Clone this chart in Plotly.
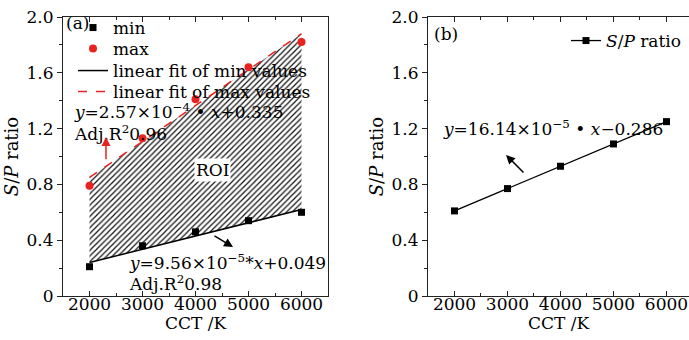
import plotly.graph_objects as go
from plotly.subplots import make_subplots

# ---- data ----
cct = [2000, 3000, 4000, 5000, 6000]
min_vals = [0.21, 0.36, 0.46, 0.54, 0.60]
max_vals = [0.79, 1.13, 1.41, 1.64, 1.82]
fit_x = [2000, 6000]
min_fit = [0.24, 0.62]
max_fit = [0.85, 1.88]
sp_ratio = [0.61, 0.77, 0.93, 1.09, 1.25]
x_ticks = [2000, 3000, 4000, 5000, 6000]
y_ticks = [0, 0.4, 0.8, 1.2, 1.6, 2.0]
y_ticklabels = ["0", "0.4", "0.8", "1.2", "1.6", "2.0"]

FONT = "DejaVu Serif"
FS = 17
AX = "#222222"
RED = "#e8231f"

fig = make_subplots(rows=1, cols=2)

# hatched ROI
fig.add_trace(go.Scatter(x=fit_x, y=min_fit, mode="lines", line=dict(width=0),
                         showlegend=False, hoverinfo="skip"), 1, 1)
fig.add_trace(go.Scatter(x=fit_x, y=max_fit, mode="lines", line=dict(width=0),
                         fill="tonexty", fillcolor="white",
                         fillpattern=dict(shape="/", size=4, solidity=0.3,
                                          fgcolor="#111111", bgcolor="white",
                                          fillmode="replace"),
                         showlegend=False, hoverinfo="skip"), 1, 1)
# fit lines
fig.add_trace(go.Scatter(x=fit_x, y=min_fit, mode="lines", name="linear fit of min values",
                         line=dict(color="black", width=1.5), legend="legend4"), 1, 1)
fig.add_trace(go.Scatter(x=fit_x, y=max_fit, mode="lines", name="linear fit of max values",
                         line=dict(color=RED, width=1.5, dash="dash"), legend="legend5"), 1, 1)
# points
fig.add_trace(go.Scatter(x=cct, y=min_vals, mode="markers", name="min",
                         marker=dict(symbol="square", size=7, color="black"),
                         legend="legend"), 1, 1)
fig.add_trace(go.Scatter(x=cct, y=max_vals, mode="markers", name="max",
                         marker=dict(symbol="circle", size=8, color=RED),
                         legend="legend3"), 1, 1)

# panel b
fig.add_trace(go.Scatter(x=cct, y=sp_ratio, mode="lines+markers",
                         name="<i>S</i>/<i>P</i> ratio",
                         line=dict(color="black", width=1.3),
                         marker=dict(symbol="square", size=7, color="black"),
                         legend="legend2"), 1, 2)

axis_common = dict(showgrid=False, zeroline=False, showline=True, linecolor=AX,
                   linewidth=1.2, tickcolor=AX,
                   tickfont=dict(family=FONT, size=FS, color="black"))


def leg(x_px, top_px):
    return dict(x=x_px / 689, y=1 - (top_px - 17) / 279, xanchor="left", yanchor="top",
                bgcolor="rgba(0,0,0,0)", font=dict(family=FONT, size=FS),
                itemwidth=30)


fig.update_layout(
    width=689, height=340,
    margin=dict(l=0, r=0, t=17, b=44),
    paper_bgcolor="white", plot_bgcolor="white",
    font=dict(family=FONT, size=FS, color="black"),
    xaxis=dict(domain=[63/689, 328/689], range=[1500, 6500], tickvals=x_ticks,
               ticks="inside", ticklen=5, mirror="ticks", ticklabelstandoff=-8,
               minor=dict(ticks="inside", ticklen=3, dtick=500, tickcolor=AX),
               title=dict(text="CCT /K", font=dict(family=FONT, size=FS), standoff=2),
               **axis_common),
    yaxis=dict(range=[0, 2.0], tickvals=y_ticks, ticktext=y_ticklabels,
               ticks="outside", ticklen=5, mirror=True,
               minor=dict(ticks="outside", ticklen=3, dtick=0.2, tickcolor=AX),
               title=dict(text="<i>S</i>/<i>P</i> ratio", font=dict(family=FONT, size=18), standoff=3),
               **axis_common),
    xaxis2=dict(domain=[428/689, 1.0], range=[1500, 6425], tickvals=x_ticks,
                ticks="inside", ticklen=5, mirror="ticks", ticklabelstandoff=-8,
                minor=dict(ticks="inside", ticklen=3, dtick=500, tickcolor=AX),
                title=dict(text="CCT /K", font=dict(family=FONT, size=FS), standoff=2),
                **axis_common),
    yaxis2=dict(range=[0, 2.0], tickvals=y_ticks, ticktext=y_ticklabels,
                ticks="outside", ticklen=5,
                minor=dict(ticks="outside", ticklen=3, dtick=0.2, tickcolor=AX),
                title=dict(text="<i>S</i>/<i>P</i> ratio", font=dict(family=FONT, size=18), standoff=3),
                **axis_common),
    legend=leg(73, 10),
    legend3=leg(73, 31),
    legend4=leg(73, 53),
    legend5=leg(73, 74),
    legend2=leg(566, 23),
)

ann_font = dict(family=FONT, size=FS, color="black")
annotations = [
    dict(x=1515, y=1.955, xref="x", yref="y", text="(a)", showarrow=False,
         xanchor="left", yanchor="middle", font=ann_font),
    dict(x=1670, y=1.325, xref="x", yref="y",
         text="<i>y</i>=2.57×10<sup>−4</sup> • <i>x</i>+0.335", showarrow=False,
         xanchor="left", yanchor="middle", font=ann_font),
    dict(x=1670, y=1.17, xref="x", yref="y", text="Adj.R<sup>2</sup>0.96",
         showarrow=False, xanchor="left", yanchor="middle", font=ann_font),
    dict(x=4330, y=0.903, xref="x", yref="y", text="ROI", showarrow=False,
         xanchor="center", yanchor="middle", font=ann_font, bgcolor="white"),
    dict(x=2708, y=0.246, xref="x", yref="y",
         text="<i>y</i>=9.56×10<sup>−5</sup>*<i>x</i>+0.049", showarrow=False,
         xanchor="left", yanchor="middle", font=ann_font),
    dict(x=2708, y=0.095, xref="x", yref="y", text="Adj.R<sup>2</sup>0.98",
         showarrow=False, xanchor="left", yanchor="middle", font=ann_font),
    # arrows
    dict(x=2311, y=1.14, ax=2311, ay=0.97, xref="x", yref="y", axref="x", ayref="y",
         text="", showarrow=True, arrowhead=2, arrowsize=1.2, arrowwidth=1.5,
         arrowcolor=RED),
    dict(x=4708, y=0.351, ax=4330, ay=0.437, xref="x", yref="y", axref="x", ayref="y",
         text="", showarrow=True, arrowhead=2, arrowsize=1.2, arrowwidth=1.5,
         arrowcolor="black"),
    dict(x=1575, y=1.88, xref="x2", yref="y2", text="(b)", showarrow=False,
         xanchor="left", yanchor="middle", font=ann_font),
    dict(x=1745, y=1.204, xref="x2", yref="y2",
         text="<i>y</i>=16.14×10<sup>−5</sup> • <i>x</i>−0.286", showarrow=False,
         xanchor="left", yanchor="middle", font=ann_font),
    dict(x=2972, y=1.011, ax=3330, ay=0.875, xref="x2", yref="y2", axref="x2", ayref="y2",
         text="", showarrow=True, arrowhead=2, arrowsize=1.2, arrowwidth=1.5,
         arrowcolor="black"),
]
fig.update_layout(annotations=annotations)

fig.write_html("out.html", config={"displayModeBar": False},
               post_script="document.body.style.margin='0';")
